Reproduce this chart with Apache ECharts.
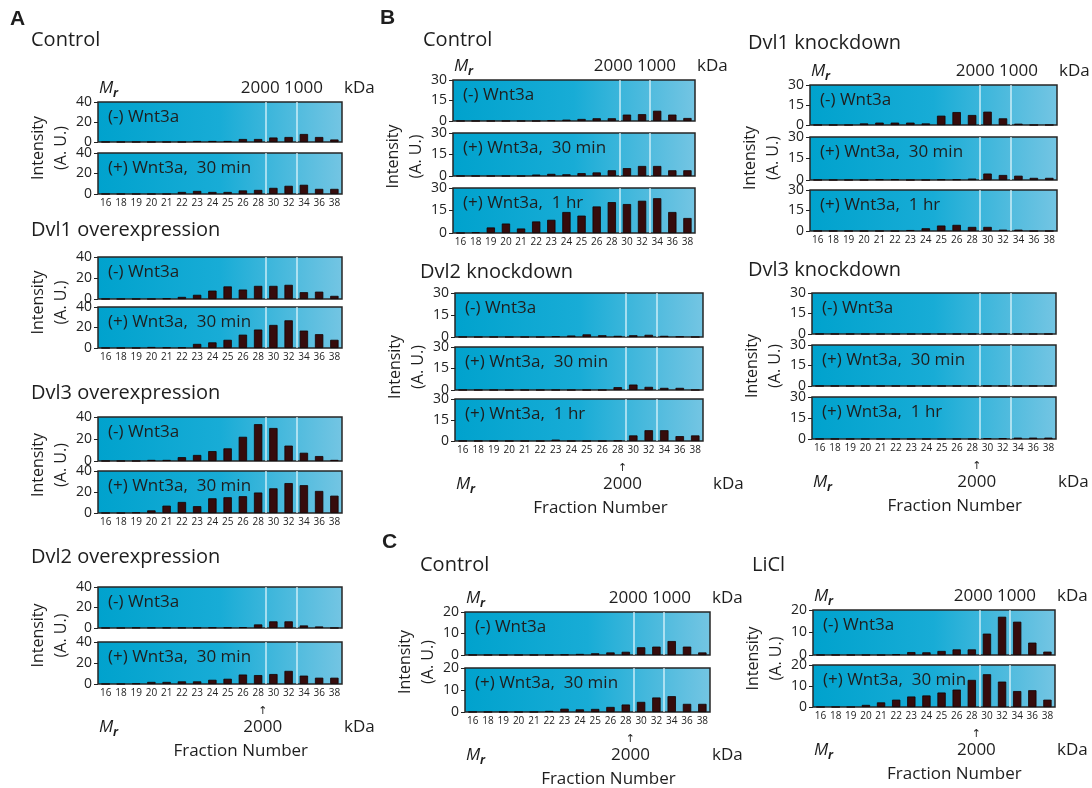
<!DOCTYPE html>
<html>
<head>
<meta charset="utf-8">
<script src="https://cdn.jsdelivr.net/npm/echarts@6/dist/echarts.min.js"></script>
<style>
  html, body { margin: 0; padding: 0; background: #fff; }
  #main { width: 1092px; height: 788px; }
</style>
</head>
<body>
<div id="main"></div>
<script>
// fraction numbers on the x axis
const fractions = ['16','18','19','20','21','22','23','24','25','26','28','30','32','34','36','38'];

// y tick labels for each panel
const aTicks = [0, 20, 40];
const bTicks = [0, 15, 30];
const cTicks = [0, 10, 20];

// panel A
const aCtrlMinus  = [0,0,0,0,0,0,1,1,1,3,3,4.5,5,8,5,2.5];
const aCtrlPlus30 = [0,0,0,0,0,2,3,2,2,3.5,4,6,8,9,5,5];
const aDvl1Minus  = [0,0,0,0,0.5,2,4,8,12,9,12.5,12.5,13.5,6.5,7,3];
const aDvl1Plus30 = [0,0,0,1,0.5,0.5,4,5.5,8,13,18,22.5,27,17,13.5,8];
const aDvl3Minus  = [0,0,0,1,1,3.5,5.5,9,11.5,22,33.5,30,14,7.5,4.5,1];
const aDvl3Plus30 = [0,0,0.5,2.5,7,10.5,6.5,14,15,16,19.5,23.5,28.5,26.5,21,16.5];
const aDvl2Minus  = [0,0,0.3,0.3,0.3,0.3,0.3,0.5,0.5,0.8,3.5,6.5,6.5,2.5,1.5,0];
const aDvl2Plus30 = [0,0,0.5,2,2,2.5,2.5,4,5,9,8.5,9.5,12.5,8,6,6];

// panel B
const bCtrlMinus  = [0,0,0,0,0,0,0.5,1,1.5,2,2,4.7,5,7.5,4.7,2.2];
const bCtrlPlus30 = [0,0,0,0,0,1,1.5,1.2,2,2.5,4,5.5,7,7,4,4];
const bCtrlPlus1h = [0,0.5,3.7,6.3,3,7.7,8.8,14,11.6,17.7,20.6,19.3,21.5,23.2,14,10];
const bDvl1Minus  = [0,0,0,1.2,1.8,1.8,1.8,1.2,7,9.7,7.5,10,5,1,0,0];
const bDvl1Plus30 = [0,0,0,0,0.5,0.5,0,0,0.4,0.4,1,4.5,3.5,3,1.5,1.5];
const bDvl1Plus1h = [0,0,0,0,0,0,0.7,2,4,4.5,3,3,1,1,0,0];
const bDvl2Minus  = [0,0,0,0,0,0,0.5,1,1.8,1.2,0.8,1.2,1.5,0.8,0.3,0];
const bDvl2Plus30 = [0,0,0,0,0,0,0,0,0,0,2,3.8,2.2,1.5,1.5,0];
const bDvl2Plus1h = [0,0,0,0,0,0,1,0,0,0,0.3,4,7.7,7.7,3.5,4];
const bDvl3Minus  = [0,0,0,0,0,0,0,0,0,0,0,0,0,0,0,0];
const bDvl3Plus30 = [0,0,0,0,0,0,0,0,0,0,0,0,0,0,0,0];
const bDvl3Plus1h = [0,0,0,0,0,0,0,0,0,0,0,0.5,0.5,1,1,1];

// panel C
const cCtrlMinus  = [0,0,0,0,0,0,0.2,0.5,0.8,1.2,1.5,3.6,3.9,6.5,3.9,1.2];
const cCtrlPlus30 = [0,0,0,0,0,0.5,1.5,1.2,1.4,2.3,3.4,4.6,6.6,7.2,3.7,3.7];
const cLiclMinus  = [0,0,0,0,0,0.3,1.3,1.2,1.8,2.5,2.5,9.5,17,14.8,5.5,1.5];
const cLiclPlus30 = [0,0,0,1,2.2,3.5,5,5.5,6.9,8.3,12.9,15.6,12.1,7.6,8,3.5];

const lblMinus = '(-) Wnt3a';
const lblPlus30 = '(+) Wnt3a,  30 min';
const lblPlus1h = '(+) Wnt3a,  1 hr';

const groups = [
  {title:'Control', tx:31, ty:40, left:98, right:342, rows:[[102,142],[153,194]],
   data:[aCtrlMinus,aCtrlPlus30], labels:[lblMinus,lblPlus30], ticks:aTicks, header:true},
  {title:'Dvl1 overexpression', tx:31, ty:230, left:98, right:342, rows:[[257,299],[307,348]],
   data:[aDvl1Minus,aDvl1Plus30], labels:[lblMinus,lblPlus30], ticks:aTicks},
  {title:'Dvl3 overexpression', tx:31, ty:393, left:98, right:342, rows:[[417,461],[471,513]],
   data:[aDvl3Minus,aDvl3Plus30], labels:[lblMinus,lblPlus30], ticks:aTicks},
  {title:'Dvl2 overexpression', tx:31, ty:557, left:98, right:342, rows:[[587,628],[642,684]],
   data:[aDvl2Minus,aDvl2Plus30], labels:[lblMinus,lblPlus30], ticks:aTicks, footer:true},
  {title:'Control', tx:423, ty:40, left:453, right:695, rows:[[80,121],[133,176],[188,233]],
   data:[bCtrlMinus,bCtrlPlus30,bCtrlPlus1h], labels:[lblMinus,lblPlus30,lblPlus1h], ticks:bTicks, header:true},
  {title:'Dvl1 knockdown', tx:748, ty:43, left:810, right:1057, rows:[[85,125],[137,180],[190,231]],
   data:[bDvl1Minus,bDvl1Plus30,bDvl1Plus1h], labels:[lblMinus,lblPlus30,lblPlus1h], ticks:bTicks, header:true},
  {title:'Dvl2 knockdown', tx:420, ty:272, left:455, right:703, rows:[[293,337],[347,390],[399,441]],
   data:[bDvl2Minus,bDvl2Plus30,bDvl2Plus1h], labels:[lblMinus,lblPlus30,lblPlus1h], ticks:bTicks, footer:true, kdaX:713},
  {title:'Dvl3 knockdown', tx:748, ty:270, left:812, right:1056, rows:[[293,334],[345,386],[397,439]],
   data:[bDvl3Minus,bDvl3Plus30,bDvl3Plus1h], labels:[lblMinus,lblPlus30,lblPlus1h], ticks:bTicks, footer:true},
  {title:'Control', tx:420, ty:565, left:465, right:710, rows:[[612,655],[668,712]],
   data:[cCtrlMinus,cCtrlPlus30], labels:[lblMinus,lblPlus30], ticks:cTicks, header:true, footer:true},
  {title:'LiCl', tx:752, ty:565, left:813, right:1055, rows:[[610,655],[665,707]],
   data:[cLiclMinus,cLiclPlus30], labels:[lblMinus,lblPlus30], ticks:cTicks, header:true, footer:true}
];

const FONT = "'Open Sans', 'Noto Sans', sans-serif";
const panelFill = {
  type: 'linear', x: 0, y: 0, x2: 1, y2: 0,
  colorStops: [
    {offset: 0, color: '#00A2CD'},
    {offset: 0.5, color: '#18ACD6'},
    {offset: 1, color: '#74C5E3'}
  ]
};

function txt(x, y, s, size, more) {
  const style = Object.assign({
    text: s, fontSize: size, fontFamily: FONT, fill: '#1e1e1e',
    align: 'left', textAlign: 'left', verticalAlign: 'middle', textVerticalAlign: 'middle'
  }, more || {});
  return {type: 'text', x: x, y: y, silent: true, style: style};
}

function mr(x, y) {
  return [
    txt(x, y, 'M', 17, {fontStyle: 'italic'}),
    txt(x + 14, y + 6, 'r', 12, {fontStyle: 'italic', fontWeight: 'bold'})
  ];
}

const option = {
  animation: false,
  textStyle: {fontFamily: FONT},
  grid: [], xAxis: [], yAxis: [], series: [], graphic: []
};

groups.forEach(function (g) {
  const w = g.right - g.left;
  const bw = w / fractions.length;
  const line2000 = g.left + 11 * bw;
  g.rows.forEach(function (r, i) {
    const last = i === g.rows.length - 1;
    const gi = option.grid.length;
    option.grid.push({
      left: g.left, top: r[0], width: w, height: r[1] - r[0],
      show: true, backgroundColor: panelFill, borderColor: '#262626', borderWidth: 1.5
    });
    option.xAxis.push({
      gridIndex: gi, type: 'category', data: fractions,
      axisLine: {show: false}, axisTick: {show: false},
      axisLabel: {show: last, interval: 0, fontSize: 10, margin: 4, color: '#222'},
      splitLine: {
        show: true, showMaxLine: false,
        // white dividers at the 28|30 and 32|34 fraction boundaries
        interval: function (idx) { return idx === 11 || idx === 13; },
        lineStyle: {color: 'rgba(225,245,252,0.85)', width: 1.5}
      }
    });
    option.yAxis.push({
      gridIndex: gi, type: 'value', min: g.ticks[0], max: g.ticks[2], interval: g.ticks[1],
      axisLine: {show: false},
      axisTick: {show: true, length: 4, lineStyle: {color: '#222'}},
      axisLabel: {fontSize: 14, margin: 6, color: '#222'},
      splitLine: {show: false}
    });
    option.series.push({
      type: 'bar', xAxisIndex: gi, yAxisIndex: gi, data: g.data[i],
      barWidth: '55%', silent: true,
      itemStyle: {color: '#360c0c', borderColor: '#150303', borderWidth: 0.8}
    });
    option.graphic.push(txt(g.left + 10, r[0] + 15, g.labels[i], 17));
  });

  const top = g.rows[0][0];
  const bottom = g.rows[g.rows.length - 1][1];
  option.graphic.push(txt(g.tx, g.ty, g.title, 20));
  option.graphic.push(txt(g.left - 48, (top + bottom) / 2, 'Intensity\n(A. U.)', 16,
    {align: 'center', textAlign: 'center', lineHeight: 23}));
  option.graphic[option.graphic.length - 1].rotation = Math.PI / 2;

  if (g.header) {
    option.graphic.push.apply(option.graphic, mr(g.left + 1, top - 14));
    option.graphic.push(txt(g.right - 19, top - 14, '2000 1000', 17, {align: 'right', textAlign: 'right'}));
    option.graphic.push(txt(g.right + 2, top - 14, 'kDa', 17));
  }
  if (g.footer) {
    option.graphic.push(txt(line2000 - 3, bottom + 27, '↑', 11,
      {align: 'center', textAlign: 'center', fontFamily: 'DejaVu Sans'}));
    option.graphic.push.apply(option.graphic, mr(g.left + 1, bottom + 43));
    option.graphic.push(txt(line2000 - 3, bottom + 43, '2000', 17, {align: 'center', textAlign: 'center'}));
    option.graphic.push(txt(g.kdaX || g.right + 2, bottom + 43, 'kDa', 17));
    option.graphic.push(txt(line2000 - 25, bottom + 67, 'Fraction Number', 17, {align: 'center', textAlign: 'center'}));
  }
});

// panel letters
[['A', 10, 19], ['B', 380, 18], ['C', 382, 542]].forEach(function (p) {
  option.graphic.push(txt(p[1], p[2], p[0], 21,
    {fontWeight: 'bold', fontFamily: "'Liberation Sans', Arial, sans-serif"}));
});

const chart = echarts.init(document.getElementById('main'), null, {renderer: 'canvas'});
chart.setOption(option);
</script>
</body>
</html>
